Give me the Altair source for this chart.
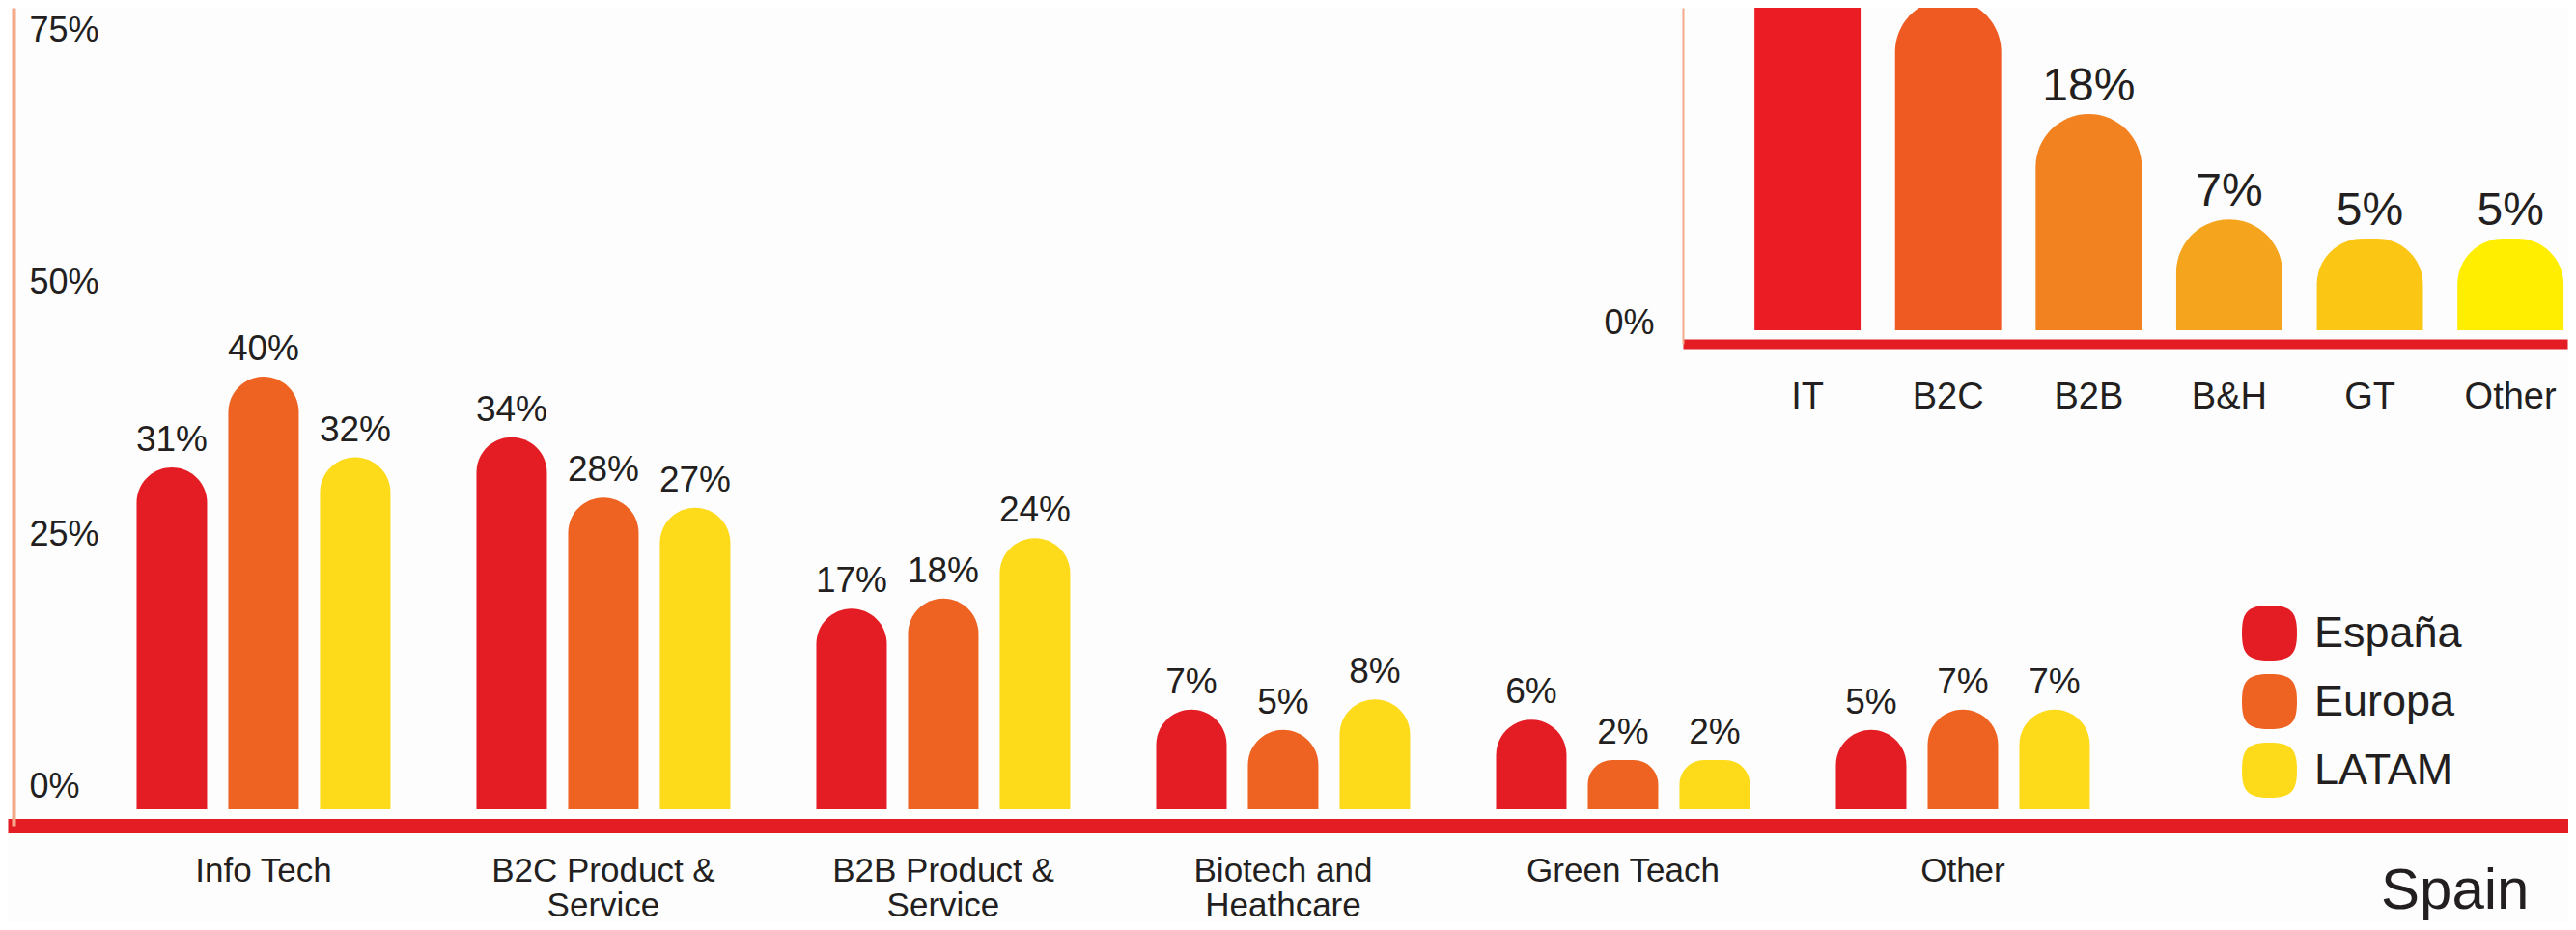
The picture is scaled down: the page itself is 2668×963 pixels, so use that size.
import altair as alt
import pandas as pd

# ---------------- data ----------------
categories = [
    "Info Tech",
    "B2C Product &|Service",
    "B2B Product &|Service",
    "Biotech and|Heathcare",
    "Green Teach",
    "Other",
]
regions = ["España", "Europa", "LATAM"]
espana = [31, 34, 17, 7, 6, 5]
europa = [40, 28, 18, 5, 2, 7]
latam = [32, 27, 24, 8, 2, 7]
region_colors = ["#E41D25", "#EE6322", "#FDDB1A"]
main_ticks = [0, 25, 50, 75]

inset_cats = ["IT", "B2C", "B2B", "B&H", "GT", "Other"]
inset_vals = [35, 30, 18, 7, 5, 5]  # IT and B2C tops are cropped in the picture (estimated)
inset_colors = ["#EC1C24", "#EF5A23", "#F28120", "#F5A41E", "#FBC614", "#FFEE00"]
inset_ticks = [0]

# ---------------- styling ----------------
FONT = "Liberation Sans"
TEXT = "#231F20"
RED = "#E41D25"
SALMON = "#F4A98A"
MAIN_BASE = -2.87
INSET_BASE = -4.58
SQUIRCLE = ("M -1 0 C -1 -0.78 -0.78 -1 0 -1 C 0.78 -1 1 -0.78 1 0 "
            "C 1 0.78 0.78 1 0 1 C -0.78 1 -1 0.78 -1 0 Z")

rows = []
for i, c in enumerate(categories):
    for r, vals in zip(regions, [espana, europa, latam]):
        rows.append({"Category": c, "Region": r, "Value": vals[i], "Label": f"{vals[i]}%"})
main_df = pd.DataFrame(rows)

inset_df = pd.DataFrame({
    "Sector": inset_cats,
    "Value": inset_vals,
    "Label": [f"{v}%" for v in inset_vals],
    "Color": inset_colors,
})

# ---------------- main chart ----------------
x_main = alt.X(
    "Category:N", sort=categories, title=None,
    scale=alt.Scale(paddingInner=0.253, paddingOuter=0.8935, align=0.2122),
    axis=alt.Axis(orient="bottom", domainColor=RED, domainWidth=15, ticks=False, tickSize=0,
                  grid=False, labelPadding=29, labelFontSize=35, labelFont=FONT,
                  labelColor=TEXT, labelAngle=0, labelLimit=500,
                  labelExpr="split(datum.label, '|')", labelLineHeight=36),
)
xo_main = alt.XOffset("Region:N", sort=regions,
                      scale=alt.Scale(paddingInner=0.2316, paddingOuter=0))
y_main = alt.Y(
    "Value:Q", title=None,
    scale=alt.Scale(domain=[-4.5, 76.55], nice=False, zero=False),
    axis=alt.Axis(orient="left", offset=-6, domainColor=SALMON, domainWidth=4,
                  ticks=False, tickSize=0, grid=False, values=main_ticks,
                  labelExpr="datum.value + '%'", labelAlign="left", labelPadding=-16,
                  labelBaseline="middle", labelOffset=7, labelFontSize=36,
                  labelFont=FONT, labelColor=TEXT, labelFlush=False, labelOverlap=False),
)

bars = alt.Chart(main_df).mark_bar(
    cornerRadiusTopLeft=36.5, cornerRadiusTopRight=36.5
).encode(
    x=x_main, xOffset=xo_main, y=y_main, y2=alt.datum(MAIN_BASE),
    color=alt.Color(
        "Region:N", sort=regions,
        scale=alt.Scale(domain=regions, range=region_colors),
        legend=alt.Legend(orient="none", legendX=2314, legendY=619, title=None,
                          symbolType=SQUIRCLE, symbolSize=3249, symbolStrokeWidth=0,
                          symbolOpacity=1, labelFontSize=45, labelFont=FONT,
                          labelColor=TEXT, labelOffset=18, rowPadding=14, padding=0,
                          labelLimit=400),
    ),
)

labels = alt.Chart(main_df).mark_text(
    font=FONT, fontSize=37, color=TEXT, baseline="alphabetic", dy=-17
).encode(x=x_main, xOffset=xo_main, y=y_main, text="Label:N")

main = alt.layer(bars, labels)

# ---------------- inset chart ----------------
x_in = alt.X(
    "Sector:N", sort=inset_cats, title=None,
    scale=alt.Scale(range=[1735, 2651], paddingInner=0.245, paddingOuter=0.268, align=0.95),
    axis=alt.Axis(orient="top", offset=-348, domainColor=RED, domainWidth=10, ticks=False,
                  tickSize=0, grid=False, labelPadding=-55, labelBaseline="middle",
                  labelFontSize=38, labelFont=FONT, labelColor=TEXT, labelAngle=0),
)
y_in = alt.Y(
    "Value:Q", title=None,
    scale=alt.Scale(domain=[-5.99, 29.09], range=[348, 0], nice=False, zero=False),
    axis=alt.Axis(orient="left", offset=-1735, domainColor=SALMON, domainWidth=2,
                  ticks=False, tickSize=0, grid=False, values=inset_ticks,
                  labelExpr="datum.value + '%'", labelAlign="right", labelPadding=30,
                  labelBaseline="middle", labelOffset=38, labelFontSize=36,
                  labelFont=FONT, labelColor=TEXT, labelFlush=False),
)

ibars = alt.Chart(inset_df).mark_bar(
    cornerRadiusTopLeft=55, cornerRadiusTopRight=55, clip=True
).encode(x=x_in, y=y_in, y2=alt.datum(INSET_BASE), color=alt.Color("Color:N", scale=None))

# labels of the two tallest bars lie above the cropped frame, as in the picture
ilabels = alt.Chart(inset_df).transform_filter(
    "datum.Value <= 25"
).mark_text(
    font=FONT, fontSize=48, color=TEXT, baseline="alphabetic", dy=-14, clip=True
).encode(x=x_in, y=y_in, text="Label:N")

inset = alt.layer(ibars, ilabels)

# ---------------- logo text ----------------
logo = alt.Chart(pd.DataFrame({"t": ["Spain"]})).mark_text(
    font=FONT, fontSize=60, color=TEXT, align="left", baseline="alphabetic"
).encode(x=alt.value(2458), y=alt.value(933), text="t:N")

chart = alt.layer(main, inset, logo).resolve_scale(
    x="independent", y="independent", color="independent"
).resolve_axis(x="independent", y="independent").properties(
    width=2652, height=847,
    autosize=alt.AutoSizeParams(type="none"),
    padding={"left": 0, "top": 0, "right": 0, "bottom": 100},
    background="#FDFDFD",
).configure_view(stroke=None)

chart.save("out.html", embed_options={"renderer": "svg", "actions": False})
